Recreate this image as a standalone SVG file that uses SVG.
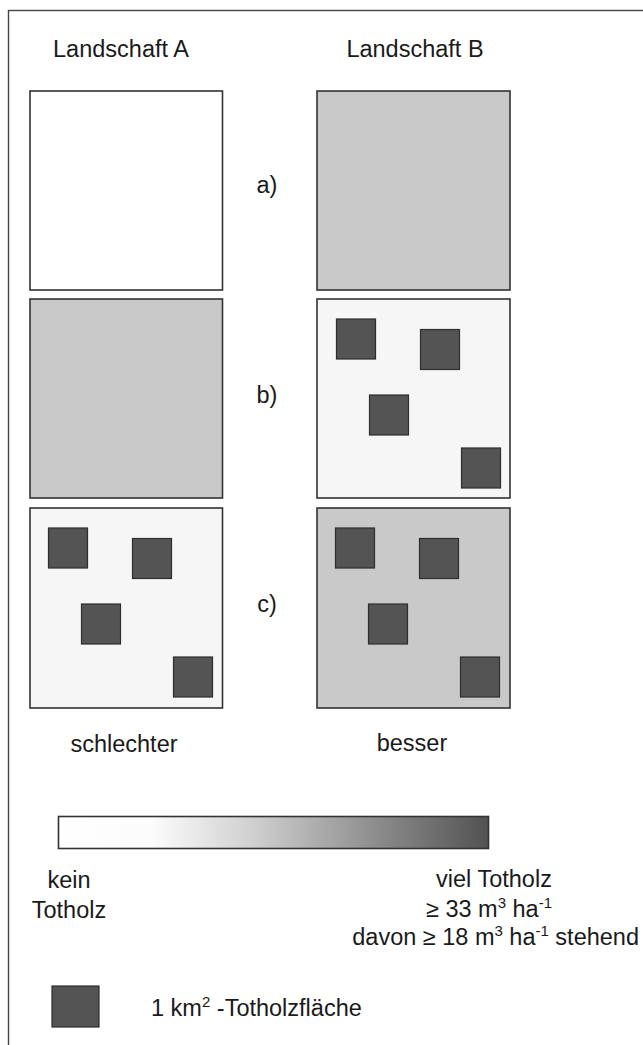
<svg xmlns="http://www.w3.org/2000/svg" width="643" height="1045" viewBox="0 0 643 1045">
<defs>
<style>
text{font-family:"Liberation Sans",Arial,sans-serif;font-size:23.5px;fill:#1a1a1a}
.box{stroke:#333;stroke-width:1.6}
.sq{fill:#545454;stroke:#2e2e2e;stroke-width:1.2}
.grey{fill:#c9c9c9}
.pale{fill:#f6f6f6}
.white{fill:#fff}
.sup{font-size:15px}
</style>
<linearGradient id="grad" x1="0" x2="1" y1="0" y2="0">
<stop offset="0" stop-color="#ffffff"/>
<stop offset="0.22" stop-color="#fbfbfb"/>
<stop offset="0.45" stop-color="#d0d0d0"/>
<stop offset="0.75" stop-color="#8a8a8a"/>
<stop offset="1" stop-color="#525252"/>
</linearGradient>
<g id="squares">
<rect class="sq" x="19.5" y="21" width="39" height="40"/>
<rect class="sq" x="103.5" y="31.5" width="39" height="40"/>
<rect class="sq" x="52.5" y="97" width="39" height="40"/>
<rect class="sq" x="144.5" y="150" width="39" height="40"/>
</g>
</defs>
<rect x="0" y="0" width="643" height="1045" fill="#fff"/>
<rect x="8.5" y="10.5" width="700" height="1100" fill="none" stroke="#444" stroke-width="1.4"/>
<g id="headers">
<text x="121" y="57" text-anchor="middle">Landschaft A</text>
<text x="415" y="57" text-anchor="middle">Landschaft B</text>
</g>
<g id="row-a">
<rect class="box white" x="30" y="91" width="192.5" height="199"/>
<rect class="box grey" x="317" y="91" width="193" height="199"/>
<text x="267" y="193" text-anchor="middle">a)</text>
</g>
<g id="row-b">
<rect class="box grey" x="30" y="299" width="192.5" height="199"/>
<rect class="box pale" x="317" y="299" width="193" height="199"/>
<use href="#squares" x="317" y="298"/>
<text x="267" y="403" text-anchor="middle">b)</text>
</g>
<g id="row-c">
<rect class="box pale" x="30" y="508" width="192.5" height="200"/>
<use href="#squares" x="29" y="507"/>
<rect class="box grey" x="317" y="508" width="193" height="200"/>
<use href="#squares" x="316" y="507"/>
<text x="267" y="612" text-anchor="middle">c)</text>
</g>
<g id="verdict">
<text x="124" y="752" text-anchor="middle">schlechter</text>
<text x="412" y="751" text-anchor="middle">besser</text>
</g>
<g id="scale">
<rect x="58.5" y="816.5" width="430" height="32" fill="url(#grad)" stroke="#333" stroke-width="1.6"/>
<text x="69" y="888" text-anchor="middle">kein</text>
<text x="69" y="918" text-anchor="middle">Totholz</text>
<text x="494" y="887" text-anchor="middle">viel Totholz</text>
<text x="489" y="917" text-anchor="middle">≥ 33 m<tspan class="sup" dy="-9">3</tspan><tspan dy="9"> ha</tspan><tspan class="sup" dy="-9">-1</tspan></text>
<text x="639" y="945" text-anchor="end">davon ≥ 18 m<tspan class="sup" dy="-9">3</tspan><tspan dy="9"> ha</tspan><tspan class="sup" dy="-9">-1</tspan><tspan dy="9"> stehend</tspan></text>
</g>
<g id="legend">
<rect class="sq" x="52" y="986" width="47" height="41"/>
<text x="151" y="1016">1 km<tspan class="sup" dy="-9">2</tspan><tspan dy="9"> -Totholzfläche</tspan></text>
</g>
</svg>
